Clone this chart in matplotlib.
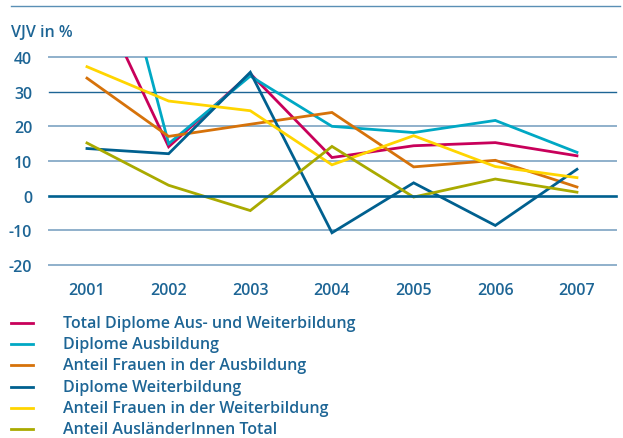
import matplotlib
matplotlib.use("Agg")
import matplotlib.pyplot as plt

years = [2001, 2002, 2003, 2004, 2005, 2006, 2007]
total_diplome = [64, 14.1, 35.2, 11.0, 14.4, 15.3, 11.5]
diplome_ausbildung = [105, 15.0, 34.5, 20.0, 18.2, 21.7, 12.5]
frauen_ausbildung = [33.9, 17.1, 20.6, 24.0, 8.3, 10.2, 2.5]
diplome_weiterbildung = [13.6, 12.1, 35.6, -10.7, 3.7, -8.6, 7.6]
frauen_weiterbildung = [37.2, 27.3, 24.5, 8.9, 17.3, 8.4, 5.2]
auslaender_total = [15.2, 3.0, -4.3, 14.2, -0.4, 4.8, 1.0]

labels = ["Total Diplome Aus- und Weiterbildung", "Diplome Ausbildung",
          "Anteil Frauen in der Ausbildung", "Diplome Weiterbildung",
          "Anteil Frauen in der Weiterbildung", "Anteil AusländerInnen Total"]
colors = ["#c8005a", "#00a8c4", "#d6720a", "#00608f", "#ffd500", "#a9aa00"]
series = [total_diplome, diplome_ausbildung, frauen_ausbildung,
          diplome_weiterbildung, frauen_weiterbildung, auslaender_total]
yticks = [-20, -10, 0, 10, 20, 30, 40]

txt = "#1d6595"
plt.rcParams['font.family'] = ['Open Sans', 'DejaVu Sans']

fig = plt.figure(figsize=(6.23, 4.39), dpi=100)
ax = fig.add_axes([49/623, 1-266/439, (616-49)/623, (266-58)/439])
ax.set_xlim(2000.535, 2007.478)
ax.set_ylim(-20, 40)

for v in yticks:
    if v == 0:
        ax.axhline(v, color="#00608f", lw=1.9, zorder=3, clip_on=False)
    elif v == 30:
        ax.axhline(v, color="#1d6595", lw=1.0, zorder=1, clip_on=False)
    else:
        ax.axhline(v, color="#8fb0cb", lw=1.4, zorder=1, clip_on=False)

for s, c in zip(series, colors):
    ax.plot(years, s, color=c, lw=2.0, zorder=2, solid_joinstyle='miter')

for sp in ax.spines.values():
    sp.set_visible(False)
ax.set_yticks(yticks)
ax.set_yticklabels([str(v) for v in yticks])
ax.set_xticks(years)
ax.set_xticklabels([str(y) for y in years])
ax.tick_params(length=0, colors=txt, labelsize=11.5)
ax.tick_params(axis='y', pad=12)
ax.tick_params(axis='x', pad=12)
for lab in ax.get_xticklabels() + ax.get_yticklabels():
    lab.set_fontweight('semibold')
ax.set_facecolor('none')

# top rule and title
fig.add_artist(plt.Line2D([11/623, 620/623], [1-7/439, 1-7/439], color="#5a8fb5", lw=1.0))
fig.text(11/623, 1-33/439, "VJV in %", color=txt, fontsize=11.5, fontweight='semibold', va='center', ha='left')

# legend
for i, (lab, c) in enumerate(zip(labels, colors)):
    yy = 1 - (324 + i*21.2)/439
    fig.add_artist(plt.Line2D([11/623, 33/623], [yy, yy], color=c, lw=2.0))
    fig.text(63/623, yy, lab, color=txt, fontsize=11.5, fontweight='semibold', va='center', ha='left')

fig.savefig("out.png", dpi=100)
